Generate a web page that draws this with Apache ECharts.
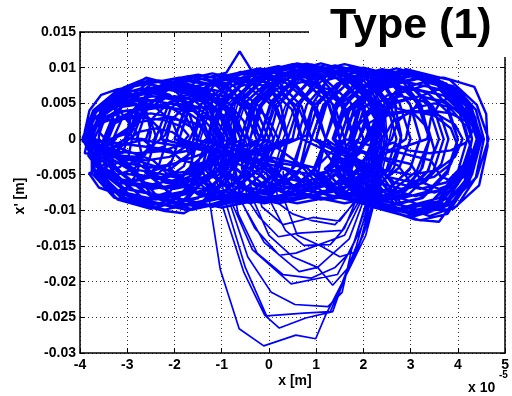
<!DOCTYPE html>
<html><head><meta charset="utf-8">
<script src="https://cdn.jsdelivr.net/npm/echarts@6/dist/echarts.min.js"></script>
<style>html,body{margin:0;padding:0;background:#fff;overflow:hidden}#c{width:512px;height:396px}</style>
</head><body><div id="c"></div>
<script>
// x in units of 1e-5 m (as labelled on the axis), x' in m (per s)
const xTickLabels = ['-4','-3','-2','-1','0','1','2','3','4','5'];
const yTickLabels = ['-0.03','-0.025','-0.02','-0.015','-0.01','-0.005','0','0.005','0.01','0.015'];

const leftLoops = [
[-3.95,0],[-3.72,.004],[-3.18,.007],[-2.4,.0082],[-1.62,.0069],[-1.08,.0041],[-.85,-.0003],[-1.08,-.0043],[-1.62,-.0074],[-2.4,-.0085],[-3.18,-.0073],[-3.72,-.0042],
[-3.8,.0003],[-3.56,.0038],[-3.0,.0066],[-2.2,.0075],[-1.4,.0064],[-.84,.0036],[-.6,0],[-.84,-.005],[-1.4,-.0087],[-2.2,-.0099],[-3.0,-.0086],[-3.56,-.0049],
[-3.93,-.0002],[-3.75,.0033],[-3.28,.0057],[-2.6,.0066],[-1.92,.0056],[-1.45,.0032],[-1.25,0],[-1.45,-.0047],[-1.92,-.0083],[-2.6,-.0095],[-3.28,-.0082],[-3.75,-.0048],
[-3.75,.0001],[-3.49,.0043],[-2.88,.0074],[-2.0,.0084],[-1.12,.0075],[-.51,.0042],[-.25,-.0002],[-.51,-.0048],[-1.12,-.0083],[-2.0,-.0095],[-2.88,-.0082],[-3.49,-.0047],
[-3.8,0],[-3.58,.0035],[-3.05,.0061],[-2.3,.0071],[-1.55,.0062],[-1.02,.0036],[-.8,.0001],[-1.02,-.004],[-1.55,-.007],[-2.3,-.008],[-3.05,-.007],[-3.58,-.004],
[-3.9,.0001],[-3.7,.0028],[-3.25,.0048],[-2.6,.0055],[-1.95,.0048],[-1.5,.0027],[-1.3,0],[-1.5,-.0033],[-1.95,-.0057],[-2.6,-.0065],[-3.25,-.0056],[-3.7,-.0032],
[-3.8,-.0001],[-3.52,.0042],[-2.85,.0074],[-1.9,.0086],[-.95,.0073],[-.28,.0043],[0,0],[-.28,-.0047],[-.95,-.0082],[-1.9,-.0096],[-2.85,-.0083],[-3.52,-.0048],
[-3.9,.0002],[-3.65,.0039],[-3.05,.0068],[-2.6,.0086],[-2.2,.0079],[-1.35,.0067],[-.75,.0039],[-.5,0],[-.75,-.005],[-1.35,-.0087],[-1.8,-.0104],[-2.2,-.0101],[-3.05,-.0087],[-3.65,-.005],
[-3.9,0],[-3.68,.003],[-3.18,.0052],[-2.45,.006],[-1.72,.0052],[-1.22,.003],[-1.0,0],[-1.22,-.0035],[-1.72,-.0061],[-2.45,-.007],[-3.18,-.0061],[-3.68,-.0035],
[-3.7,0],[-3.46,.0035],[-2.9,.0061],[-2.1,.007],[-1.3,.0061],[-.74,.0035],[-.5,0],[-.74,-.0041],[-1.3,-.0071],[-2.1,-.0082],[-2.9,-.0071],[-3.46,-.0041],
[-3.5,0],[-3.23,.0044],[-2.6,.0077],[-1.7,.0088],[-.8,.0077],[-.17,.0044],[.1,0],[-.17,-.005],[-.8,-.0087],[-1.7,-.01],[-2.6,-.0087],[-3.23,-.005],
[-3.85,0],[-3.63,.0023],[-3.1,.0039],[-2.35,.0045],[-1.6,.0039],[-1.07,.0022],[-.85,0],[-1.07,-.0028],[-1.6,-.0048],[-2.35,-.0055],[-3.1,-.0048],[-3.63,-.0027],
[-3.3,0],[-3.1,.003],[-2.65,.0052],[-2.0,.006],[-1.35,.0052],[-.9,.003],[-.7,0],[-.9,-.0035],[-1.35,-.0061],[-2.0,-.007],[-2.65,-.0061],[-3.1,-.0035],
[-3.4,0],[-3.12,.0045],[-2.45,.0079],[-1.5,.009],[-.55,.0078],[.12,.0045],[.4,0],[.12,-.0048],[-.55,-.0083],[-1.5,-.0095],[-2.45,-.0083],[-3.12,-.0047],
[-3.9,.0005],[-3.62,.0044],[-3.1,.0071],[-2.5,.0083],[-1.9,.0079],[-1.2,.0068],[-.78,.0038],[-.7,-.0004],[-.95,-.0049],[-1.5,-.0083],[-2.3,-.0093],[-3.1,-.0082],[-3.6,-.0049],
[-3.5,0],[-3.35,.0019],[-3.0,.0031],[-2.5,.0036],[-2.0,.003],[-1.65,.0017],[-1.5,0],[-1.65,-.002],[-2.0,-.0035],[-2.5,-.004],[-3.0,-.0034],[-3.35,-.002],
[-3.5,0],[-3.28,.0026],[-2.75,.0044],[-2.0,.005],[-1.25,.0043],[-.72,.0025],[-.5,0],[-.72,-.003],[-1.25,-.0052],[-2.0,-.006],[-2.75,-.0051],[-3.28,-.003],
[-3.9,0],[-3.72,.0036],[-3.3,.006],[-2.7,.0071],[-2.1,.0062],[-1.68,.0034],[-1.5,0],[-1.68,-.0042],[-2.1,-.0074],[-2.7,-.0086],[-3.3,-.0073],[-3.72,-.0043],
[-3.5,0],[-3.25,.0039],[-2.65,.0065],[-1.8,.0076],[-.95,.0066],[-.35,.0038],[-.1,0],[-.35,-.0043],[-.95,-.0074],[-1.8,-.0086],[-2.65,-.0074],[-3.25,-.0042],
[-3.45,0],[-3.26,.0022],[-2.82,.0039],[-2.2,.0045],[-1.58,.0039],[-1.14,.0023],[-.95,0],[-1.14,-.0025],[-1.58,-.0044],[-2.2,-.005],[-2.82,-.0043],[-3.26,-.0025],
[-3.95,-.0003],[-3.7,.0038],[-3.2,.0064],[-2.85,.0078],[-2.45,.0076],[-2.0,.0068],[-1.55,.004],[-1.05,.0002],[-1.25,-.0049],[-1.8,-.0085],[-2.5,-.0098],[-3.2,-.0085],[-3.7,-.005],
[-3.0,0],[-2.76,.0033],[-2.2,.0057],[-1.4,.0065],[-.6,.0056],[-.04,.0032],[.2,0],[-.04,-.0035],[-.6,-.0061],[-1.4,-.007],[-2.2,-.0061],[-2.76,-.0035],
[-3.9,0],[-3.75,.0025],[-3.4,.0043],[-2.9,.005],[-2.4,.0044],[-2.05,.0025],[-1.9,0],[-2.05,-.003],[-2.4,-.0052],[-2.9,-.006],[-3.4,-.0052],[-3.75,-.003],
[-3.05,0],[-2.88,.004],[-2.48,.007],[-1.9,.0081],[-1.32,.0069],[-.92,.0041],[-.75,0],[-.92,-.0045],[-1.32,-.0078],[-1.9,-.009],[-2.48,-.0078],[-2.88,-.0045],
[-3.75,0],[-3.55,.0042],[-3.08,.0072],[-2.6,.0085],[-2.3,.0079],[-1.72,.0073],[-1.25,.0041],[-1.05,0],[-1.25,-.0048],[-1.72,-.0084],[-2.4,-.0096],[-3.08,-.0083],[-3.55,-.0048],
[-3.0,0],[-2.79,.0043],[-2.3,.0075],[-1.6,.0087],[-.9,.0075],[-.41,.0043],[-.2,0],[-.41,-.0049],[-.9,-.0085],[-1.6,-.0099],[-2.3,-.0085],[-2.79,-.0049],
[-3.6,.001],[-3.45,.003],[-3.1,.0045],[-2.6,.005],[-2.1,.0045],[-1.75,.003],[-1.6,.001],[-1.75,-.001],[-2.1,-.0025],[-2.6,-.003],[-3.1,-.0025],[-3.45,-.001],
[-3.8,-.001],[-3.68,.0015],[-3.4,.0033],[-3.0,.004],[-2.6,.0033],[-2.32,.0015],[-2.2,-.001],[-2.32,-.0035],[-2.6,-.0053],[-3.0,-.006],[-3.4,-.0053],[-3.68,-.0035],
[-3.4,-.002],[-3.22,.0005],[-2.8,.0023],[-2.2,.003],[-1.6,.0023],[-1.18,.0005],[-1.0,-.002],[-1.18,-.0045],[-1.6,-.0063],[-2.2,-.007],[-2.8,-.0063],[-3.22,-.0045],
[-3.9,.001],[-3.8,.004],[-3.55,.0062],[-3.2,.007],[-2.85,.0062],[-2.6,.004],[-2.5,.001],[-2.6,-.002],[-2.85,-.0042],[-3.2,-.005],[-3.55,-.0042],[-3.8,-.002],
[-2.6,0],[-2.45,.003],[-2.1,.0052],[-1.6,.006],[-1.1,.0052],[-.75,.003],[-.6,0],[-.75,-.003],[-1.1,-.0052],[-1.6,-.006],[-2.1,-.0052],[-2.45,-.003],
[-3.9,.0005],[-3.73,.0018],[-3.35,.0027],[-2.8,.003],[-2.25,.0027],[-1.87,.0018],[-1.7,.0005],[-1.87,-.0008],[-2.25,-.0017],[-2.8,-.002],[-3.35,-.0017],[-3.73,-.0008],
[-2.9,.001],[-2.77,.0045],[-2.45,.007],[-2.0,.008],[-1.55,.007],[-1.23,.0045],[-1.1,.001],[-1.23,-.0025],[-1.55,-.005],[-2.0,-.006],[-2.45,-.005],[-2.77,-.0025],
[-3.9,-.002],[-3.81,.0008],[-3.6,.0028],[-3.3,.0035],[-3.0,.0028],[-2.79,.0008],[-2.7,-.002],[-2.79,-.0048],[-3.0,-.0068],[-3.3,-.0075],[-3.6,-.0068],[-3.81,-.0048],
[-2.2,-.001],[-2.07,.0025],[-1.75,.005],[-1.3,.006],[-.85,.005],[-.53,.0025],[-.4,-.001],[-.53,-.0045],[-.85,-.007],[-1.3,-.008],[-1.75,-.007],[-2.07,-.0045],
[-3.8,-.001],[-3.6,.0027],[-3.15,.0055],[-2.5,.0065],[-1.85,.0055],[-1.4,.0027],[-1.2,-.001],[-1.4,-.0047],[-1.85,-.0075],[-2.5,-.0085],[-3.15,-.0075],[-3.6,-.0047],
[-3.6,.0005],[-3.51,.0023],[-3.3,.0035],[-3.0,.004],[-2.7,.0035],[-2.49,.0023],[-2.4,.0005],[-2.49,-.0013],[-2.7,-.0025],[-3.0,-.003],[-3.3,-.0025],[-3.51,-.0013],
[-3.1,-.002],[-3.0,-.0002],[-2.75,.001],[-2.4,.0015],[-2.05,.001],[-1.8,-.0002],[-1.7,-.002],[-1.8,-.0038],[-2.05,-.005],[-2.4,-.0055],[-2.75,-.005],[-3.0,-.0038],
[-2.2,.0005],[-2.1,.0025],[-1.85,.004],[-1.5,.0045],[-1.15,.004],[-.9,.0025],[-.8,.0005],[-.9,-.0015],[-1.15,-.003],[-1.5,-.0035],[-1.85,-.003],[-2.1,-.0015],
[-3.9,0],[-3.83,.0023],[-3.65,.0039],[-3.4,.0045],[-3.15,.0039],[-2.97,.0023],[-2.9,0],[-2.97,-.0023],[-3.15,-.0039],[-3.4,-.0045],[-3.65,-.0039],[-3.83,-.0023],
[-2.8,.002],[-2.68,.004],[-2.4,.0055],[-2.0,.006],[-1.6,.0055],[-1.32,.004],[-1.2,.002],[-1.32,0],[-1.6,-.0015],[-2.0,-.002],[-2.4,-.0015],[-2.68,0]
];

const midLoops = [
[-2.9,0],[-2.62,.0045],[-1.95,.0078],[-1.0,.009],[-.05,.0079],[.62,.0045],[.9,0],[.62,-.0048],[-.05,-.0083],[-1.0,-.0096],[-1.95,-.0083],[-2.62,-.0047],
[-2.4,0],[-2.13,.0048],[-1.5,.0083],[-.9,.0093],[-.62,.0123],[-.35,.0094],[.3,.0082],[.93,.0047],[1.2,0],[.93,-.0045],[.3,-.0078],[-.6,-.009],[-1.5,-.0078],[-2.13,-.0045],
[-1.9,0],[-1.65,.005],[-1.05,.0087],[-.2,.0099],[.65,.0087],[1.25,.005],[1.5,0],[1.25,-.0044],[.65,-.0077],[-.2,-.0088],[-1.05,-.0076],[-1.65,-.0044],
[-1.6,0],[-1.33,.0051],[-.7,.0089],[.2,.0102],[1.1,.0089],[1.73,.0051],[2.0,0],[1.73,-.0045],[1.1,-.0078],[.2,-.009],[-.7,-.0078],[-1.33,-.0045],
[-1.2,0],[-.95,.0052],[-.35,.0091],[.5,.0105],[1.35,.0091],[1.95,.0053],[2.2,0],[1.95,-.0043],[1.35,-.0074],[.5,-.0085],[-.35,-.0074],[-.95,-.0042],
[-1.5,0],[-1.28,.0047],[-.75,.0083],[0,.0095],[.75,.0082],[1.28,.0048],[1.5,0],[1.28,-.0042],[.75,-.0074],[0,-.0085],[-.75,-.0074],[-1.28,-.0043],
[-.8,0],[-.56,.0053],[0,.0091],[.8,.0105],[1.6,.0092],[2.16,.0052],[2.4,0],[2.16,-.004],[1.6,-.007],[.8,-.008],[0,-.007],[-.56,-.004],
[-.6,0],[-.35,.0053],[.25,.0091],[1.1,.0106],[1.95,.0091],[2.55,.0052],[2.8,0],[2.55,-.0043],[1.95,-.0074],[1.1,-.0085],[.25,-.0074],[-.35,-.0043],
[-2.0,0],[-1.76,.0047],[-1.2,.0082],[-.4,.0095],[.4,.0083],[.96,.0048],[1.2,0],[.96,-.0045],[.4,-.0078],[-.4,-.009],[-1.2,-.0078],[-1.76,-.0045],
[-1.0,0],[-.79,.0049],[-.3,.0085],[.4,.0098],[1.1,.0085],[1.59,.0049],[1.8,0],[1.59,-.0038],[1.1,-.0065],[.4,-.0075],[-.3,-.0065],[-.79,-.0037],
[-.2,0],[.04,.0052],[.6,.009],[1.4,.0103],[2.2,.009],[2.76,.0051],[3.0,0],[2.76,-.004],[2.2,-.007],[1.4,-.008],[.6,-.007],[.04,-.004],
[-.4,0],[-.2,.0047],[.25,.0082],[.9,.0095],[1.55,.0083],[2.0,.0048],[2.2,0],[2.0,-.0035],[1.55,-.0061],[.9,-.007],[.25,-.0061],[-.2,-.0035],
[.2,0],[.42,.005],[.95,.0087],[1.7,.01],[2.45,.0087],[2.98,.005],[3.2,0],[2.98,-.0043],[2.45,-.0074],[1.7,-.0085],[.95,-.0074],[.42,-.0042],
[-2.3,0],[-2.08,.0043],[-1.55,.0074],[-.8,.0085],[-.05,.0074],[.48,.0042],[.7,0],[.48,-.0043],[-.05,-.0074],[-.8,-.0085],[-1.55,-.0074],[-2.08,-.0042],
[-1.3,0],[-1.02,.0052],[-.35,.0091],[.6,.0106],[1.55,.0092],[2.22,.0053],[2.5,0],[2.22,-.0045],[1.55,-.0078],[.6,-.009],[-.35,-.0078],[-1.02,-.0045],
[0,0],[.18,.0045],[.6,.0078],[1.2,.009],[1.8,.0078],[2.22,.0045],[2.4,0],[2.22,-.0033],[1.8,-.0057],[1.2,-.0065],[.6,-.0057],[.18,-.0033],
[-1.0,0],[-.8,.0045],[-.35,.0079],[.3,.0091],[.95,.0078],[1.4,.0045],[1.6,0],[1.4,-.0035],[.95,-.0061],[.3,-.007],[-.35,-.0061],[-.8,-.0035],
[-.5,0],[-.28,.005],[.25,.0087],[1.0,.0101],[1.75,.0087],[2.28,.005],[2.5,0],[2.28,-.0038],[1.75,-.0065],[1.0,-.0075],[.25,-.0065],[-.28,-.0037],
[-2.0,0],[-1.72,.0049],[-1.05,.0085],[-.1,.0098],[.85,.0085],[1.52,.0049],[1.8,0],[1.52,-.0045],[.85,-.0078],[-.1,-.009],[-1.05,-.0078],[-1.72,-.0045],
[-.2,0],[.07,.0052],[.7,.009],[1.6,.0105],[2.5,.0091],[3.13,.0052],[3.4,0],[3.13,-.0045],[2.5,-.0078],[1.6,-.009],[.7,-.0078],[.07,-.0045],
[-.4,0],[-.24,.004],[.15,.007],[.7,.008],[1.25,.007],[1.64,.004],[1.8,0],[1.64,-.003],[1.25,-.0052],[.7,-.006],[.15,-.0052],[-.24,-.003],
[-1.9,0],[-1.69,.0046],[-1.2,.008],[-.5,.0092],[.2,.008],[.69,.0046],[.9,0],[.69,-.004],[.2,-.007],[-.5,-.008],[-1.2,-.007],[-1.69,-.004],
[-.1,0],[.11,.005],[.6,.0089],[1.0,.0101],[1.45,.0099],[2.0,.009],[2.49,.0051],[2.7,0],[2.49,-.0043],[2.0,-.0074],[1.3,-.0085],[.6,-.0074],[.11,-.0042],
[-1.2,0],[-1.02,.0043],[-.6,.0074],[0,.0085],[.6,.0074],[1.02,.0042],[1.2,0],[1.02,-.0038],[.6,-.0065],[0,-.0075],[-.6,-.0065],[-1.02,-.0037],
[.6,0],[.8,.0048],[1.25,.0083],[1.9,.0095],[2.55,.0083],[3.0,.0047],[3.2,0],[3.0,-.004],[2.55,-.007],[1.9,-.008],[1.25,-.007],[.8,-.004],
[-2.8,0],[-2.56,.0046],[-2.0,.008],[-1.2,.0092],[-.4,.008],[.16,.0046],[.4,0],[.16,-.0048],[-.4,-.0083],[-1.2,-.0095],[-2.0,-.0083],[-2.56,-.0047],
[-.5,0],[-.35,.0048],[0,.0083],[.5,.0095],[1.0,.0083],[1.35,.0048],[1.5,0],[1.35,-.0035],[1.0,-.0061],[.5,-.007],[0,-.0061],[-.35,-.0035],
[-1.3,0],[-1.15,.0043],[-.8,.0074],[-.3,.0085],[.2,.0074],[.55,.0043],[.7,0],[.55,-.0038],[.2,-.0065],[-.3,-.0075],[-.8,-.0065],[-1.15,-.0038],
[.5,0],[.65,.0048],[1.0,.0083],[1.5,.0095],[2.0,.0083],[2.35,.0048],[2.5,0],[2.35,-.0035],[2.0,-.0061],[1.5,-.007],[1.0,-.0061],[.65,-.0035],
[-.3,.001],[-.12,.0055],[.3,.0089],[.9,.0103],[1.5,.0089],[1.92,.0055],[2.1,.001],[1.92,-.002],[1.5,-.0042],[.9,-.005],[.3,-.0042],[-.12,-.002],
[.8,.0005],[.95,.0052],[1.3,.0088],[1.8,.0101],[2.3,.0088],[2.65,.0052],[2.8,.0005],[2.65,-.004],[2.3,-.007],[1.8,-.008],[1.3,-.007],[.95,-.004],
[-1.6,0],[-1.45,.0047],[-1.1,.0082],[-.6,.0094],[-.1,.0082],[.25,.0047],[.4,0],[.25,-.0043],[-.1,-.0074],[-.6,-.0085],[-1.1,-.0074],[-1.45,-.0043]
];

const lobeLoops = [
[-1.45,0],[-1.2,.0052],[-.5,.009],[.4,.0103],[1.3,.0092],[2.0,.0055],[2.45,.0005],[2.3,-.0072],[2.05,-.0135],[1.68,-.0185],[1.2,-.0247],[.99,-.028],[.57,-.0275],[-.11,-.029],[-.63,-.0266],[-1.03,-.0183],[-1.26,-.0086],[-1.4,-.004],
[-1.25,0],[-1.0,.0053],[-.3,.0092],[.6,.0105],[1.5,.0093],[2.1,.0053],[2.4,0],[2.2,-.0075],[1.95,-.014],[1.6,-.0195],[1.35,-.0242],[.78,-.0251],[.22,-.0265],[-.09,-.0247],[-.53,-.0187],[-.99,-.0093],[-1.15,-.0045],
[-1.1,0],[-.85,.005],[-.2,.009],[.7,.0104],[1.6,.009],[2.15,.005],[2.35,0],[2.15,-.008],[1.85,-.015],[1.5,-.021],[1.3,-.0242],[.74,-.0244],[-.05,-.0248],[-.5,-.018],[-.9,-.0092],[-1.05,-.0045],
[-.95,0],[-.7,.0051],[0,.0092],[.85,.0104],[1.7,.0088],[2.2,.0048],[2.3,0],[2.1,-.008],[1.8,-.0145],[1.45,-.019],[.47,-.0203],[-.35,-.0155],[-.75,-.0095],[-.9,-.0045],
[-.75,0],[-.5,.005],[.15,.009],[1.0,.0103],[1.8,.0088],[2.25,.0048],[2.3,0],[2.05,-.0078],[1.7,-.014],[1.03,-.018],[.64,-.0186],[-.1,-.0145],[-.55,-.0092],[-.7,-.0045],
[-.8,0],[-.55,.0049],[.1,.0088],[.95,.0101],[1.8,.0087],[2.25,.0047],[2.3,0],[2.0,-.008],[1.6,-.0135],[.57,-.016],[.22,-.0163],[-.3,-.0125],[-.6,-.0085],[-.75,-.004],
[-.6,0],[-.35,.005],[.3,.0089],[1.1,.0102],[1.85,.0088],[2.25,.0046],[2.25,0],[1.95,-.0082],[1.55,-.0128],[.64,-.0132],[.2,-.0137],[-.2,-.011],[-.45,-.0085],[-.58,-.004],
[-.4,0],[-.15,.0048],[.45,.0088],[1.2,.01],[1.9,.0086],[2.3,.0045],[2.25,0],[1.9,-.008],[1.5,-.0115],[.93,-.011],[.3,-.012],[-.15,-.0095],[-.35,-.0045],
[-.5,0],[-.25,.005],[.4,.009],[1.2,.0104],[2.0,.009],[2.45,.005],[2.5,0],[2.25,-.0078],[2.0,-.013],[1.75,-.0175],[1.35,-.0205],[1.03,-.018],[.5,-.0165],[0,-.0135],[-.3,-.009],[-.45,-.0045],
[-.1,0],[.15,.0048],[.7,.0087],[1.4,.0101],[2.05,.0088],[2.4,.0047],[2.2,0],[1.85,-.0085],[1.6,-.0125],[1.3,-.0148],[.74,-.0149],[.35,-.0128],[.05,-.009],[-.05,-.0045],
[-.9,0],[-.65,.0051],[0,.0091],[.9,.0105],[1.75,.009],[2.3,.005],[2.45,0],[2.2,-.0082],[1.95,-.0125],[1.7,-.016],[1.4,-.018],[.9,-.0195],[.3,-.019],[-.25,-.016],[-.65,-.0105],[-.82,-.005],
[-1.0,0],[-.75,.0052],[-.1,.0092],[.8,.0106],[1.65,.0092],[2.2,.0052],[2.35,0],[2.1,-.0085],[1.75,-.0155],[1.55,-.0215],[1.25,-.0235],[.55,-.0232],[.05,-.0215],[-.45,-.0165],[-.8,-.0095],[-.95,-.0045],
[.1,0],[.35,.0047],[.9,.0086],[1.6,.0099],[2.2,.0086],[2.55,.0045],[2.3,0],[1.8,-.009],[1.4,-.012],[.89,-.0114],[.5,-.0105],[.2,-.009],[.1,-.0045],
[.3,0],[.55,.0046],[1.1,.0086],[1.8,.01],[2.4,.0087],[2.7,.0046],[2.55,0],[2.3,-.0075],[2.05,-.0125],[1.85,-.0158],[1.5,-.0165],[1.1,-.015],[.6,-.0135],[.35,-.009],[.3,-.0045]
];

const rightLoops = [
[.4,0],[.64,.005],[1.2,.0087],[2.0,.01],[2.8,.0087],[3.36,.005],[3.6,0],[3.36,-.0045],[2.8,-.0078],[2.0,-.009],[1.2,-.0078],[.64,-.0045],
[.8,0],[1.04,.0049],[1.6,.0085],[2.4,.0098],[3.2,.0085],[3.76,.0049],[4.0,0],[3.76,-.0048],[3.2,-.0083],[2.4,-.0095],[1.6,-.0083],[1.04,-.0047],
[1.2,0],[1.44,.0048],[2.0,.0083],[2.8,.0096],[3.6,.0082],[4.16,.0047],[4.4,0],[4.16,-.005],[3.6,-.0087],[2.8,-.01],[2.0,-.0087],[1.44,-.005],
[1.5,0],[1.72,.0045],[2.25,.0078],[3.0,.009],[3.75,.0078],[4.28,.0045],[4.5,0],[4.28,-.0053],[3.75,-.0091],[3.0,-.0105],[2.25,-.0091],[1.72,-.0052],
[1.6,0],[1.82,.0043],[2.35,.0074],[3.1,.0085],[3.78,.0074],[4.25,.0043],[4.45,0],[4.25,-.0058],[3.78,-.0105],[3.2,-.0114],[2.35,-.0096],[1.82,-.0055],
[1.5,0],[1.71,.004],[2.2,.007],[2.9,.008],[3.6,.007],[4.09,.004],[4.3,0],[4.09,-.0048],[3.6,-.0083],[2.9,-.0095],[2.2,-.0083],[1.71,-.0047],
[1.8,0],[2.01,.0043],[2.5,.0074],[3.2,.0085],[3.9,.0074],[4.3,.0042],[4.5,0],[4.3,-.005],[3.9,-.0087],[3.2,-.01],[2.5,-.0087],[2.01,-.005],
[1.35,0],[1.6,.0048],[2.17,.0083],[3.0,.0095],[3.83,.0083],[4.4,.0048],[4.65,0],[4.4,-.0053],[3.83,-.0091],[3.0,-.0105],[2.17,-.0091],[1.6,-.0052],
[1.4,0],[1.6,.0038],[2.05,.0065],[2.7,.0075],[3.35,.0065],[3.8,.0037],[4.0,0],[3.8,-.0043],[3.35,-.0074],[2.7,-.0085],[2.05,-.0074],[1.6,-.0042],
[1.9,0],[2.08,.0035],[2.5,.0061],[3.1,.007],[3.7,.0061],[4.12,.0035],[4.3,0],[4.12,-.004],[3.7,-.007],[3.1,-.008],[2.5,-.007],[2.08,-.004],
[.9,0],[1.15,.0048],[1.75,.0083],[2.6,.0095],[3.45,.0082],[4.05,.0047],[4.3,0],[4.05,-.005],[3.45,-.0087],[2.6,-.01],[1.75,-.0087],[1.15,-.005],
[2.15,0],[2.32,.004],[2.73,.007],[3.3,.008],[3.88,.007],[4.28,.004],[4.45,0],[4.28,-.0053],[3.88,-.0091],[3.3,-.0105],[2.73,-.0091],[2.32,-.0052],
[.7,0],[.92,.0045],[1.45,.0078],[2.2,.009],[2.95,.0078],[3.48,.0045],[3.7,0],[3.48,-.0045],[2.95,-.0078],[2.2,-.009],[1.45,-.0078],[.92,-.0045],
[1.6,0],[1.81,.0045],[2.3,.0078],[3.0,.009],[3.7,.0078],[4.19,.0045],[4.4,0],[4.19,-.0055],[3.7,-.0096],[3.0,-.011],[2.3,-.0096],[1.81,-.0055],
[1.2,0],[1.45,.0045],[2.0,.0075],[2.9,.0088],[3.7,.0086],[4.35,.0073],[4.6,.0035],[4.63,-.001],[4.45,-.0065],[3.9,-.0098],[2.9,-.0102],[2.0,-.0085],[1.4,-.0045],
[2.1,0],[2.26,.003],[2.65,.0052],[3.2,.006],[3.75,.0052],[4.14,.003],[4.3,0],[4.14,-.0035],[3.75,-.0061],[3.2,-.007],[2.65,-.0061],[2.26,-.0035],
[1.7,0],[1.9,.0044],[2.35,.0077],[3.0,.0088],[3.65,.0076],[4.1,.0044],[4.3,0],[4.1,-.0051],[3.65,-.0089],[3.0,-.0102],[2.35,-.0089],[1.9,-.0051],
[1.8,0],[1.95,.003],[2.3,.0052],[2.8,.006],[3.3,.0052],[3.65,.003],[3.8,0],[3.65,-.0035],[3.3,-.0061],[2.8,-.007],[2.3,-.0061],[1.95,-.0035],
[2.3,0],[2.45,.0038],[2.8,.0065],[3.3,.0075],[3.8,.0065],[4.15,.0037],[4.3,0],[4.15,-.0048],[3.8,-.0083],[3.3,-.0095],[2.8,-.0083],[2.45,-.0047],
[1.0,0],[1.22,.0049],[1.75,.0084],[2.5,.0097],[3.25,.0084],[3.78,.0048],[4.0,0],[3.78,-.0048],[3.25,-.0083],[2.5,-.0095],[1.75,-.0083],[1.22,-.0047],
[1.75,0],[1.95,.0047],[2.43,.0081],[2.9,.0098],[3.5,.0088],[4.25,.0047],[4.45,0],[4.25,-.0057],[3.6,-.0116],[3.1,-.0113],[2.43,-.0098],[1.95,-.0056],
[2.6,0],[2.73,.0025],[3.05,.0043],[3.5,.005],[3.95,.0043],[4.27,.0025],[4.4,0],[4.27,-.0038],[3.95,-.0065],[3.5,-.0075],[3.05,-.0065],[2.73,-.0037],
[1.35,0],[1.58,.0046],[2.12,.008],[2.9,.0092],[3.68,.008],[4.22,.0046],[4.45,0],[4.22,-.0054],[3.68,-.0094],[2.9,-.0108],[2.12,-.0094],[1.58,-.0054],
[1.0,0],[1.18,.0048],[1.6,.0084],[2.2,.0096],[2.8,.0083],[3.22,.0048],[3.4,0],[3.22,-.0043],[2.8,-.0074],[2.2,-.0085],[1.6,-.0074],[1.18,-.0042],
[1.9,0],[2.06,.002],[2.45,.0035],[3.0,.004],[3.55,.0035],[3.94,.002],[4.1,0],[3.94,-.0025],[3.55,-.0044],[3.0,-.005],[2.45,-.0044],[2.06,-.0025],
[2.25,0],[2.42,.0041],[2.83,.0071],[3.4,.0082],[3.98,.0071],[4.38,.0041],[4.55,0],[4.38,-.0054],[3.98,-.0094],[3.4,-.0108],[2.83,-.0094],[2.42,-.0054],
[1.2,0],[1.42,.005],[1.95,.0086],[2.7,.0099],[3.45,.0086],[3.98,.005],[4.2,0],[3.98,-.005],[3.45,-.0087],[2.7,-.01],[1.95,-.0087],[1.42,-.005],
[2.0,-.001],[2.15,.0015],[2.5,.0033],[3.0,.004],[3.5,.0033],[3.85,.0015],[4.0,-.001],[3.85,-.0035],[3.5,-.0053],[3.0,-.006],[2.5,-.0053],[2.15,-.0035],
[2.9,0],[3.0,.0035],[3.25,.0061],[3.6,.007],[3.95,.0061],[4.2,.0035],[4.3,0],[4.2,-.0035],[3.95,-.0061],[3.6,-.007],[3.25,-.0061],[3.0,-.0035],
[1.7,-.0015],[1.83,.0015],[2.15,.0037],[2.6,.0045],[3.05,.0037],[3.37,.0015],[3.5,-.0015],[3.37,-.0045],[3.05,-.0067],[2.6,-.0075],[2.15,-.0067],[1.83,-.0045],
[2.5,.001],[2.63,.0025],[2.95,.0036],[3.4,.004],[3.85,.0036],[4.17,.0025],[4.3,.001],[4.17,-.0005],[3.85,-.0016],[3.4,-.002],[2.95,-.0016],[2.63,-.0005],
[2.1,-.002],[2.26,.002],[2.65,.005],[3.2,.006],[3.75,.005],[4.14,.002],[4.3,-.002],[4.14,-.006],[3.75,-.009],[3.2,-.01],[2.65,-.009],[2.26,-.006],
[1.4,0],[1.55,.004],[1.9,.007],[2.4,.008],[2.9,.007],[3.25,.004],[3.4,0],[3.25,-.004],[2.9,-.007],[2.4,-.008],[1.9,-.007],[1.55,-.004],
[3.35,0],[3.43,.003],[3.63,.0052],[3.9,.006],[4.17,.0052],[4.37,.003],[4.45,0],[4.37,-.003],[4.17,-.0052],[3.9,-.006],[3.63,-.0052],[3.43,-.003],
[1.6,0],[1.69,.0025],[1.9,.0043],[2.2,.005],[2.5,.0043],[2.71,.0025],[2.8,0],[2.71,-.0025],[2.5,-.0043],[2.2,-.005],[1.9,-.0043],[1.69,-.0025]
];

const bandTrajectory = [].concat(leftLoops, midLoops, rightLoops);

const FONT = '"Liberation Sans", Arial, Helvetica, sans-serif';
const chart = echarts.init(document.getElementById('c'), null, {renderer: 'canvas'});
const axisLineStyle = {color: '#000', width: 1.5};
const labelStyle = {color: '#000', fontWeight: 'bold', fontSize: 14, fontFamily: FONT};
const gridLine = {show: true, lineStyle: {color: '#333', type: [1, 3], width: 1}};

chart.setOption({
  animation: false,
  backgroundColor: '#fff',
  grid: {left: 80, top: 32, width: 433, height: 321, containLabel: false},
  xAxis: [
    {type: 'value', min: -4, max: 5, interval: 1, position: 'bottom',
     axisLine: {show: true, onZero: false, lineStyle: axisLineStyle},
     axisTick: {show: true, inside: true, length: 5, lineStyle: {color: '#000', width: 1}},
     axisLabel: Object.assign({margin: 5, formatter: v => xTickLabels[Math.round(v) + 4]}, labelStyle),
     splitLine: gridLine},
    {type: 'value', min: -4, max: 5, interval: 1, position: 'top',
     axisLine: {show: true, onZero: false, lineStyle: axisLineStyle},
     axisTick: {show: true, inside: true, length: 5, lineStyle: {color: '#000', width: 1}},
     axisLabel: {show: false}, splitLine: {show: false}}
  ],
  yAxis: [
    {type: 'value', min: -0.03, max: 0.015, interval: 0.005, position: 'left',
     axisLine: {show: true, onZero: false, lineStyle: axisLineStyle},
     axisTick: {show: true, inside: true, length: 5, lineStyle: {color: '#000', width: 1}},
     axisLabel: Object.assign({margin: 4, formatter: v => yTickLabels[Math.round((v + 0.03) / 0.005)]}, labelStyle),
     splitLine: gridLine},
    {type: 'value', min: -0.03, max: 0.015, interval: 0.005, position: 'right',
     axisLine: {show: true, onZero: false, lineStyle: axisLineStyle},
     axisTick: {show: true, inside: true, length: 5, lineStyle: {color: '#000', width: 1}},
     axisLabel: {show: false}, splitLine: {show: false}}
  ],
  series: [
    {type: 'line', xAxisIndex: 0, yAxisIndex: 0, data: bandTrajectory,
     showSymbol: false, smooth: false, clip: true,
     lineStyle: {color: '#0000ff', width: 2.4}, z: 3},
    {type: 'line', xAxisIndex: 0, yAxisIndex: 0, data: lobeLoops,
     showSymbol: false, smooth: false, clip: true,
     lineStyle: {color: '#0000ff', width: 1.7}, z: 3}
  ],
  graphic: [
    {type: 'rect', shape: {x: 309, y: 0, width: 210, height: 57}, style: {fill: '#fff'}, z: 100},
    {type: 'text', left: 330, top: 5, z: 101, style: {text: 'Type (1)', font: 'bold 43px ' + FONT, fill: '#000'}},
    {type: 'text', x: 295, y: 381, z: 101, style: {text: 'x [m]', font: 'bold 14px ' + FONT, fill: '#000', align: 'center', verticalAlign: 'middle'}},
    {type: 'text', x: 20, y: 196, rotation: Math.PI / 2, z: 101, style: {text: "x' [m]", font: 'bold 14px ' + FONT, fill: '#000', align: 'center', verticalAlign: 'middle'}},
    {type: 'text', left: 468, top: 381, z: 101, style: {text: 'x 10', font: 'bold 14px ' + FONT, fill: '#000'}},
    {type: 'text', left: 499, top: 370, z: 101, style: {text: '-5', font: 'bold 10px ' + FONT, fill: '#000'}}
  ]
});
</script></body></html>
